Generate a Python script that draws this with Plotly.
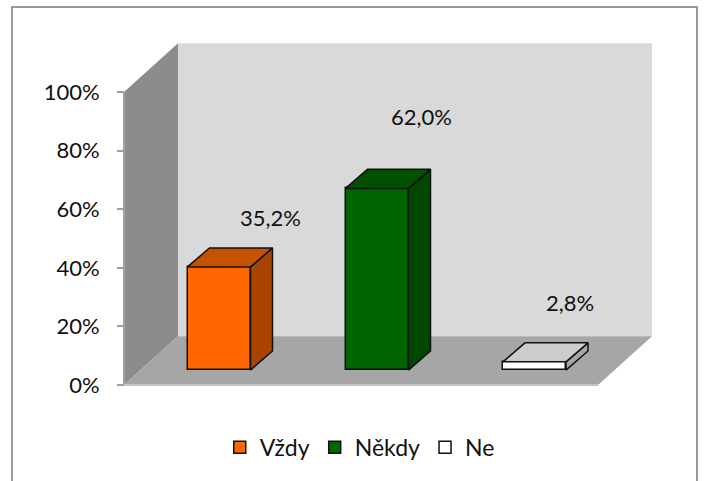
import plotly.graph_objects as go

categories = ["Vždy", "Někdy", "Ne"]
values = [35.2, 62.0, 2.8]
value_labels = ["35,2%", "62,0%", "2,8%"]
tick_values = [0, 20, 40, 60, 80, 100]
tick_labels = ["0%", "20%", "40%", "60%", "80%", "100%"]

front_colors = ["#FF6600", "#006400", "#FFFFFF"]
side_colors = ["#A84300", "#004800", "#A6A6A6"]
top_colors = ["#C65200", "#005000", "#CCCCCC"]

# layout constants: x axis runs in window units, y axis in percent
W, H = 704, 481
Y0_PX, Y100_PX = 385, 92
PX = (Y0_PX - Y100_PX) / 100
Y_RANGE = [-(H - Y0_PX) / PX, Y0_PX / PX]
AXIS_X, FLOOR_W = 124, 474
WALL_DX, WALL_DY = 54, 16.6
BAR_CENTERS = [219, 377, 534.5]
BAR_W, BAR_BASE = 63, 5.1
BAR_DX, BAR_DY = 22, 6.5
LABEL_X = [270, 421, 570]
LABEL_Y = [57.3, 91.5, 28.3]
FONT = "Lato"
TXT = "#111111"


def poly_path(pts):
    return "M" + " L".join(f"{x},{y}" for x, y in pts) + " Z"


x0 = AXIS_X
x1 = AXIS_X + FLOOR_W
shapes = [
    dict(type="path", layer="below", xref="x", yref="y", line=dict(width=0), fillcolor="#D9D9D9",
         path=poly_path([(x0 + WALL_DX, WALL_DY), (x1 + WALL_DX, WALL_DY),
                         (x1 + WALL_DX, 100 + WALL_DY), (x0 + WALL_DX, 100 + WALL_DY)])),
    dict(type="path", layer="below", xref="x", yref="y", line=dict(width=0), fillcolor="#8C8C8C",
         path=poly_path([(x0, 0), (x0 + WALL_DX, WALL_DY), (x0 + WALL_DX, 100 + WALL_DY), (x0, 100)])),
    dict(type="path", layer="below", xref="x", yref="y", line=dict(width=0), fillcolor="#A6A6A6",
         path=poly_path([(x0, 0), (x1, 0), (x1 + WALL_DX, WALL_DY), (x0 + WALL_DX, WALL_DY)])),
    dict(type="line", layer="below", xref="x", yref="y", x0=x0, x1=x0, y0=0, y1=100,
         line=dict(color="#A0A0A0", width=2)),
    dict(type="line", layer="below", xref="x", yref="y", x0=x0, x1=x1, y0=0, y1=0,
         line=dict(color="#C4C4C4", width=2)),
    # outer chart border, open at the bottom of the window
    dict(type="path", layer="below", xref="x", yref="y", line=dict(color="#9A9A9A", width=2),
         path=f"M12,{Y_RANGE[0]} L12,{(Y0_PX - 7) / PX} L697,{(Y0_PX - 7) / PX} L697,{Y_RANGE[0]}"),
]

fig = go.Figure()
for i, cat in enumerate(categories):
    fig.add_trace(go.Bar(
        x=[BAR_CENTERS[i]], y=[values[i]], base=[BAR_BASE], width=[BAR_W], name=cat,
        marker=dict(color=front_colors[i], line=dict(color="#111111", width=1.5)),
    ))

for i, v in enumerate(values):
    l = BAR_CENTERS[i] - BAR_W / 2
    r = BAR_CENTERS[i] + BAR_W / 2
    b = BAR_BASE
    t = BAR_BASE + v
    fig.add_trace(go.Scatter(
        x=[r, r + BAR_DX, r + BAR_DX, r, r], y=[b, b + BAR_DY, t + BAR_DY, t, b],
        mode="lines", fill="toself", fillcolor=side_colors[i],
        line=dict(color="#111111", width=1.5), showlegend=False, hoverinfo="skip"))
    fig.add_trace(go.Scatter(
        x=[l, l + BAR_DX, r + BAR_DX, r, l], y=[t, t + BAR_DY, t + BAR_DY, t, t],
        mode="lines", fill="toself", fillcolor=top_colors[i],
        line=dict(color="#111111", width=1.5), showlegend=False, hoverinfo="skip"))

annotations = [
    dict(x=LABEL_X[i], y=LABEL_Y[i], text=value_labels[i], showarrow=False, xref="x", yref="y",
         font=dict(family=FONT, size=22, color=TXT))
    for i in range(len(values))
]

fig.update_layout(
    width=W, height=H, margin=dict(l=0, r=0, t=0, b=0),
    paper_bgcolor="white", plot_bgcolor="white", barmode="overlay", bargap=0,
    showlegend=True, shapes=shapes, annotations=annotations,
    xaxis=dict(range=[0, W], visible=False, fixedrange=True),
    yaxis=dict(range=Y_RANGE, anchor="free", position=AXIS_X / W, showgrid=False, zeroline=False,
               showline=False, tickmode="array", tickvals=tick_values, ticktext=tick_labels,
               ticks="outside", ticklen=7, tickcolor="#A0A0A0", tickwidth=2, ticklabelstandoff=13,
               tickfont=dict(family=FONT, size=22, color=TXT), fixedrange=True),
    legend=dict(orientation="h", x=0.511, xanchor="center", y=0.07, yanchor="middle",
                font=dict(family=FONT, size=23, color=TXT), bgcolor="rgba(0,0,0,0)",
                itemclick=False, itemdoubleclick=False),
)

fig.write_html("out.html", config=dict(displayModeBar=False),
               post_script="document.body.style.margin='0';document.documentElement.style.overflow='hidden';")
